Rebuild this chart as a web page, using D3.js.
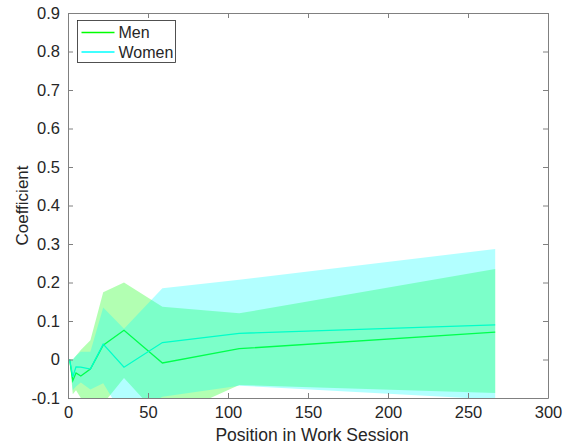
<!DOCTYPE html>
<html>
<head>
<meta charset="utf-8">
<script src="https://cdn.jsdelivr.net/npm/d3@7/dist/d3.min.js"></script>
<style>
  html, body { margin: 0; padding: 0; background: #fff; }
  svg { display: block; }
  text { font-family: "Liberation Sans", Arial, Helvetica, sans-serif; fill: #262626; }
</style>
</head>
<body>
<svg id="chart" width="579" height="446"></svg>
<script>
// Positions in the work session at which coefficients were estimated
const positions = [1, 3, 5, 8, 14, 22, 35, 59, 107, 267];

// Men: point estimate and confidence band
const menCoef  = [0, -0.055, -0.035, -0.043, -0.025, 0.037, 0.076, -0.009, 0.028, 0.071];
const menUpper = [0, 0.0, 0.01, 0.025, 0.05, 0.175, 0.2, 0.137, 0.12, 0.235];
const menLower = [0, -0.09, -0.08, -0.1, -0.12, -0.115, -0.048, -0.157, -0.066, -0.087];

// Women: point estimate and confidence band
const womenCoef  = [0, -0.045, -0.019, -0.02, -0.025, 0.04, -0.02, 0.044, 0.068, 0.09];
const womenUpper = [0, 0.0, 0.01, 0.02, 0.02, 0.135, 0.08, 0.185, 0.207, 0.287];
const womenLower = [0, -0.08, -0.07, -0.06, -0.078, -0.062, -0.15, -0.097, -0.068, -0.104];

const xTicks = [0, 50, 100, 150, 200, 250, 300];
const yTicks = [-0.1, 0, 0.1, 0.2, 0.3, 0.4, 0.5, 0.6, 0.7, 0.8, 0.9];
const seriesNames = ["Men", "Women"];

const svg = d3.select("#chart");
const mLeft = 68, mRight = 548, mTop = 13, mBottom = 398;

const x = d3.scaleLinear().domain([0, 300]).range([mLeft, mRight]);
const y = d3.scaleLinear().domain([-0.1, 0.9]).range([mBottom, mTop]);

const series = [
  { name: seriesNames[0], coef: menCoef, lo: menLower, hi: menUpper, line: "#00ff00", fill: "#00ff00" },
  { name: seriesNames[1], coef: womenCoef, lo: womenLower, hi: womenUpper, line: "#00ffff", fill: "#00ffff" }
];

svg.append("defs").append("clipPath").attr("id", "plotArea")
  .append("rect").attr("x", mLeft).attr("y", mTop)
  .attr("width", mRight - mLeft).attr("height", mBottom - mTop);

const plot = svg.append("g").attr("clip-path", "url(#plotArea)");

const line = d3.line().x((d, i) => x(positions[i])).y(d => y(d));
const area = (s) => d3.area()
  .x((d, i) => x(positions[i]))
  .y0((d, i) => y(s.lo[i]))
  .y1((d, i) => y(s.hi[i]));

// Estimate lines sit beneath the translucent bands
series.forEach(s => {
  plot.append("path").attr("d", line(s.coef))
    .attr("fill", "none").attr("stroke", s.line).attr("stroke-width", 1.3);
});
series.forEach(s => {
  plot.append("path").attr("d", area(s)(s.coef))
    .attr("fill", s.fill).attr("fill-opacity", 0.3).attr("stroke", "none");
});

// Axes box with inward ticks on all four sides
const axisColor = "#808080";
const tickLen = 5;
const xAxisBottom = d3.axisBottom(x).tickValues(xTicks).tickSizeInner(-tickLen).tickSizeOuter(0).tickPadding(8)
  .tickFormat(d3.format("d"));
const xAxisTop = d3.axisTop(x).tickValues(xTicks).tickSizeInner(-tickLen).tickSizeOuter(0).tickFormat("");
const yAxisLeft = d3.axisLeft(y).tickValues(yTicks).tickSizeInner(-tickLen).tickSizeOuter(0).tickPadding(8)
  .tickFormat(d => d === 0 ? "0" : d3.format(".1f")(d).replace("−", "-"));
const yAxisRight = d3.axisRight(y).tickValues(yTicks).tickSizeInner(-tickLen).tickSizeOuter(0).tickFormat("");

function styleAxis(g) {
  g.select(".domain").attr("stroke", axisColor).attr("stroke-width", 1);
  g.selectAll(".tick line").attr("stroke", axisColor);
  g.selectAll(".tick text").attr("fill", "#262626").style("font-size", "16.5px")
    .style("font-family", "'Liberation Sans', Arial, Helvetica, sans-serif");
}

svg.append("g").attr("transform", `translate(0,${mBottom})`).call(xAxisBottom).call(styleAxis);
svg.append("g").attr("transform", `translate(0,${mTop})`).call(xAxisTop).call(styleAxis);
svg.append("g").attr("transform", `translate(${mLeft},0)`).call(yAxisLeft).call(styleAxis);
svg.append("g").attr("transform", `translate(${mRight},0)`).call(yAxisRight).call(styleAxis);

// Axis titles
svg.append("text").attr("x", 312).attr("y", 441)
  .attr("text-anchor", "middle").style("font-size", "17.5px")
  .text("Position in Work Session");
svg.append("text")
  .attr("transform", `translate(28,${(mTop + mBottom) / 2}) rotate(-90)`)
  .attr("text-anchor", "middle").style("font-size", "17px")
  .text("Coefficient");

// Legend
const lg = svg.append("g").attr("transform", "translate(77.5,20.5)");
lg.append("rect").attr("width", 98).attr("height", 42)
  .attr("fill", "#fff").attr("stroke", "#262626").attr("stroke-width", 0.8);
series.forEach((s, i) => {
  const yy = 12 + i * 19.5;
  lg.append("line").attr("x1", 4).attr("x2", 37).attr("y1", yy).attr("y2", yy)
    .attr("stroke", s.line).attr("stroke-width", 1.3);
  lg.append("text").attr("x", 41).attr("y", yy).attr("dy", "0.35em")
    .style("font-size", "16px").text(s.name);
});
</script>
</body>
</html>
